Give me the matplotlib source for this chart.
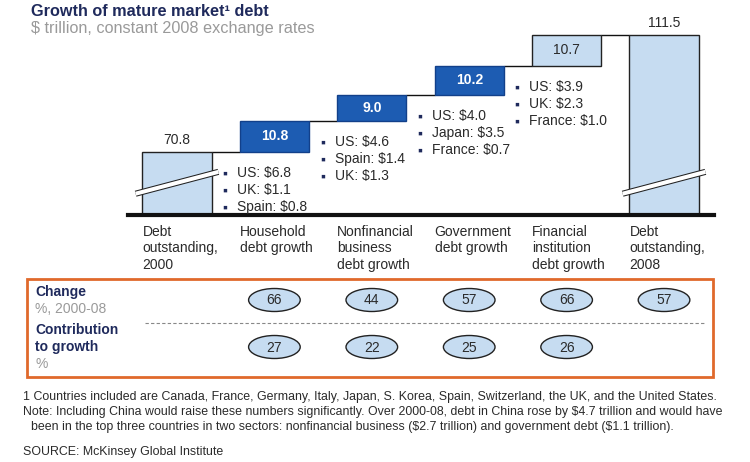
import matplotlib
matplotlib.use("Agg")
import matplotlib.pyplot as plt
from matplotlib.patches import Ellipse, Rectangle
from matplotlib import font_manager as fm

# ---------------- data ----------------
categories = ["Debt\noutstanding,\n2000", "Household\ndebt growth",
              "Nonfinancial\nbusiness\ndebt growth", "Government\ndebt growth",
              "Financial\ninstitution\ndebt growth", "Debt\noutstanding,\n2008"]
start_value = 70.8
increments = [10.8, 9.0, 10.2, 10.7]
end_value = 111.5
value_labels = ["70.8", "10.8", "9.0", "10.2", "10.7", "111.5"]
top_countries = [
    ["US: $6.8", "UK: $1.1", "Spain: $0.8"],
    ["US: $4.6", "Spain: $1.4", "UK: $1.3"],
    ["US: $4.0", "Japan: $3.5", "France: $0.7"],
    ["US: $3.9", "UK: $2.3", "France: $1.0"],
]
change_pct = [66, 44, 57, 66, 57]        # bars 1..5
contribution_pct = [27, 22, 25, 26]      # bars 1..4

title = "Growth of mature market\u00b9 debt"
subtitle = "$ trillion, constant 2008 exchange rates"
footnote1 = ("1 Countries included are Canada, France, Germany, Italy, Japan, S. Korea, Spain, "
             "Switzerland, the UK, and the United States.")
footnote2 = ("Note: Including China would raise these numbers significantly. Over 2000-08, debt in "
             "China rose by $4.7 trillion and would have")
footnote3 = ("been in the top three countries in two sectors: nonfinancial business ($2.7 trillion) "
             "and government debt ($1.1 trillion).")
source = "SOURCE: McKinsey Global Institute"

# ---------------- style ----------------
FONT = ["Liberation Sans", "DejaVu Sans"]
plt.rcParams["font.family"] = FONT
try:
    fm.findfont("Liberation Sans Narrow", fallback_to_default=False)
    NARROW = ["Liberation Sans Narrow", "Liberation Sans"]
    FN_SIZE = 9.8
except Exception:
    NARROW = FONT
    FN_SIZE = 8.9

NAVY = "#1f2a5c"
GRAY = "#9a9a9a"
TXT = "#2a2a2a"
DARK = "#1d5cb2"
DARK_EDGE = "#12408a"
LIGHT = "#c6dcf1"
ORANGE = "#e0692b"
bar_colors = [LIGHT, DARK, DARK, DARK, LIGHT, LIGHT]
label_colors = [TXT, "white", "white", "white", TXT, TXT]
label_weights = ["normal", "bold", "bold", "bold", "normal", "normal"]

W, H = 750, 462
fig = plt.figure(figsize=(W / 100, H / 100), dpi=100)

# overlay axes in pixel coordinates (for texts / frame)
ov = fig.add_axes([0, 0, 1, 1], zorder=5)
ov.set_xlim(0, W)
ov.set_ylim(H, 0)
ov.axis("off")
ov.patch.set_alpha(0)

# ---------------- waterfall ----------------
L, R, T, B = 128, 714, 20, 215
ax = fig.add_axes([L / W, 1 - B / H, (R - L) / W, (B - T) / H])
ax.set_xlim(-0.503, 5.513)
ax.set_ylim(48.9, 116.7)
for s in ["top", "right", "left"]:
    ax.spines[s].set_visible(False)
ax.spines["bottom"].set_linewidth(3)
ax.spines["bottom"].set_color("#111111")
ax.set_xticks([])
ax.set_yticks([])
ax.patch.set_alpha(0)

w = 0.71
n = len(categories)
bottoms = [0]
heights = [start_value]
cum = start_value
for inc in increments:
    bottoms.append(cum)
    heights.append(inc)
    cum += inc
bottoms.append(0)
heights.append(end_value)

for i in range(n):
    ec = DARK_EDGE if bar_colors[i] == DARK else "#222222"
    ax.bar(i, heights[i], bottom=bottoms[i], width=w, color=bar_colors[i],
           edgecolor=ec, linewidth=1, zorder=2)

# connectors
tops = [bottoms[i] + heights[i] for i in range(n)]
for i in range(n - 1):
    ax.plot([i + w / 2, i + 1 - w / 2], [tops[i], tops[i]], color="#111111",
            lw=1, zorder=1, solid_capstyle="butt")

# break marks on the first and last bar
for i in [0, n - 1]:
    xs = [i - w / 2 - 0.07, i + w / 2 + 0.07]
    ys = [56.3, 63.9]
    ax.plot(xs, ys, color="#222222", lw=4.4, solid_capstyle="butt", zorder=3)
    ax.plot(xs, ys, color="white", lw=2.9, solid_capstyle="butt", zorder=4)

# value labels
for i in range(n):
    if i in (0, n - 1):
        ax.annotate(value_labels[i], (i, tops[i]), xytext=(0, 3.5),
                    textcoords="offset points", ha="center", va="bottom",
                    fontsize=10, color=TXT)
    else:
        ax.text(i, bottoms[i] + heights[i] / 2, value_labels[i], ha="center",
                va="center", fontsize=10, color=label_colors[i],
                fontweight=label_weights[i], zorder=5)

# category labels
for i, c in enumerate(categories):
    ax.annotate(c, (i - w / 2, 0), xycoords=("data", "axes fraction"),
                xytext=(0, -7), textcoords="offset points", ha="left", va="top",
                fontsize=10, color=TXT, linespacing=1.25, annotation_clip=False)

# bullet lists (top three countries), placed under each growth bar
for k, items in enumerate(top_countries):
    anchor = (k + w / 2, bottoms[k + 1])
    for j, item in enumerate(items):
        dy = -15.2 - j * 12.3
        ax.annotate("\u25aa", anchor, xytext=(9.6, dy - 0.5), textcoords="offset points",
                    ha="center", va="center", fontsize=10, color=NAVY,
                    annotation_clip=False)
        ax.annotate(item, anchor, xytext=(18.5, dy), textcoords="offset points",
                    ha="left", va="center", fontsize=10, color=TXT,
                    annotation_clip=False, parse_math=False)

# ---------------- table with ellipses ----------------
TT, TB = 279, 377
axt = fig.add_axes([L / W, 1 - TB / H, (R - L) / W, (TB - TT) / H])
axt.set_xlim(ax.get_xlim())
axt.set_ylim(TB, TT)
axt.axis("off")
axt.patch.set_alpha(0)

ew, eh = 0.53, 23
for k, v in enumerate(change_pct):
    x = k + 1
    axt.add_patch(Ellipse((x, 300), ew, eh, facecolor=LIGHT, edgecolor="#222222", lw=1))
    axt.text(x, 300.5, str(v), ha="center", va="center", fontsize=10, color=TXT)
for k, v in enumerate(contribution_pct):
    x = k + 1
    axt.add_patch(Ellipse((x, 347), ew, eh, facecolor=LIGHT, edgecolor="#222222", lw=1))
    axt.text(x, 347.5, str(v), ha="center", va="center", fontsize=10, color=TXT)

# frame, dashed separator and row labels
ov.add_patch(Rectangle((27, 279), 686, 98, fill=False, edgecolor=ORANGE, lw=2))
ov.plot([145, 704], [323, 323], color="#888888", lw=0.8, ls=(0, (3, 2)))
ov.text(35, 292, "Change", fontsize=10, fontweight="bold", color=NAVY, va="center")
ov.text(35, 309, "%, 2000-08", fontsize=10, color=GRAY, va="center")
ov.text(35, 330, "Contribution", fontsize=10, fontweight="bold", color=NAVY, va="center")
ov.text(35, 347, "to growth", fontsize=10, fontweight="bold", color=NAVY, va="center")
ov.text(35, 364, "%", fontsize=10, color=GRAY, va="center")

# title
ov.text(31, 11, title, fontsize=11.7, fontweight="bold", color=NAVY, va="center")
ov.text(31, 29, subtitle, fontsize=11.7, color=GRAY, va="center", parse_math=False)

# footnotes
for (x, y, s) in [(23, 397, footnote1), (23, 412, footnote2), (31, 427, footnote3),
                  (23, 452, source)]:
    ov.text(x, y, s, fontsize=FN_SIZE, family=NARROW, color=TXT, va="center",
            parse_math=False)

fig.savefig("out.png", dpi=100, facecolor="white")
